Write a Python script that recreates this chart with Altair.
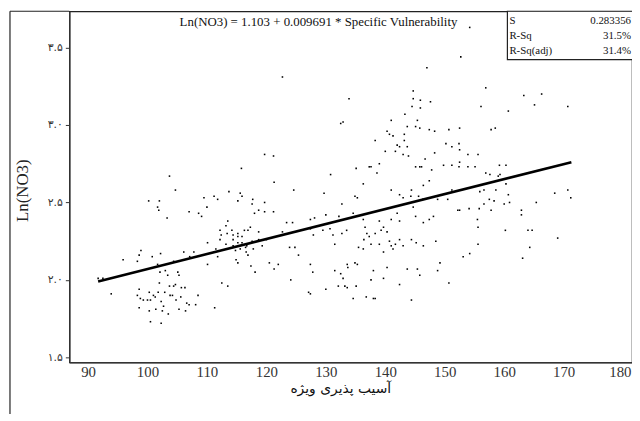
import altair as alt
import pandas as pd

# ---- data ----
sv = [122.7,152.7,147.0,156.9,133.9,144.7,144.7,145.9,147.6,144.5,145.9,163.3,166.3,156.1,160.7,165.1,143.3,132.5,132.9,141.0,
      145.4,145.1,143.7,145.8,140.3,140.7,141.3,143.2,147.4,148.3,150.7,152.5,157.8,158.5,138.3,143.2,142.0,142.4,143.7,140.0,
      141.7,143.0,143.9,150.2,151.2,152.4,152.5,153.9,155.6,148.3,146.7,119.7,121.2,139.0,137.6,138.6,145.8,146.1,145.1,147.8,
      149.8,151.2,152.5,152.4,153.9,155.1,156.9,157.6,159.2,160.3,159.0,130.8,135.1,137.3,121.3,136.3,147.4,103.7,104.7,124.6,
      129.7,141.0,146.4,144.4,151.2,155.9,156.6,158.6,160.7,160.3,134.9,135.3,132.7,142.4,143.0,145.6,146.3,144.3,148.8,148.8,
      100.2,102.0,101.7,101.9,109.5,110.0,111.2,111.8,113.7,115.6,115.9,115.2,117.7,117.6,119.7,121.2,119.7,118.0,118.7,109.1,
      108.6,107.0,103.3,150.5,152.2,152.5,154.1,155.8,156.6,157.5,158.3,157.8,160.0,160.9,162.9,162.9,165.4,144.7,145.1,146.4,
      147.4,148.1,142.0,141.0,142.4,134.6,132.2,130.0,128.1,127.4,124.4,123.4,113.5,113.2,114.2,113.4,114.4,115.2,116.3,115.9,
      112.2,112.4,112.2,114.4,115.2,115.9,115.2,116.7,116.9,117.3,118.7,117.6,116.5,118.7,119.3,120.0,122.7,113.2,114.4,114.8,
      115.6,116.6,117.8,116.9,111.5,110.1,111.2,123.9,124.8,125.4,127.4,127.9,129.5,130.7,131.2,131.5,132.7,133.5,136.3,136.6,
      136.9,136.4,137.6,136.3,135.5,137.3,138.3,139.0,139.3,139.7,140.3,140.7,139.0,141.0,141.3,142.4,141.7,139.7,143.0,144.4,
      145.2,146.4,148.5,155.5,155.6,155.6,160.2,164.0,164.7,163.1,164.3,169.0,154.2,153.1,149.2,148.8,145.4,145.8,143.7,140.3,
      139.7,138.0,137.6,134.9,135.3,133.6,133.7,131.5,132.5,132.9,132.1,133.2,133.6,130.0,127.4,127.8,120.5,121.3,122.0,117.4,
      118.1,114.9,115.2,111.8,110.1,98.9,98.6,100.8,102.2,101.7,102.1,95.9,98.3,106.1,107.8,107.1,104.4,104.1,105.1,105.3,
      103.0,103.4,103.7,102.0,101.8,101.3,98.6,98.3,98.8,99.3,100.0,100.5,100.3,101.0,102.9,103.8,104.2,104.4,104.7,105.7,
      106.3,104.8,105.6,102.3,102.7,98.6,100.3,101.4,102.5,103.5,100.5,102.3,105.3,106.4,106.6,107.0,108.1,108.5,111.3,112.5,
      113.5,93.9,91.7,92.5,124.1,127.1,127.4,136.8,138.0,138.3,134.6,135.1,142.4,144.4,150.7,171.2,168.5,170.7,159.3,170.7,
      154.2,115.8]
ln_no3 = [3.31,3.44,3.37,3.24,3.17,3.22,3.17,3.16,3.15,3.12,3.11,3.19,3.20,3.12,3.09,3.13,3.07,3.01,3.02,3.03,
          3.03,2.99,2.99,2.98,2.96,2.94,2.93,2.94,2.97,2.96,2.97,2.98,2.97,2.98,2.90,2.90,2.87,2.86,2.86,2.83,
          2.83,2.81,2.80,2.88,2.86,2.88,2.84,2.81,2.81,2.82,2.78,2.81,2.80,2.75,2.73,2.69,2.73,2.73,2.73,2.71,
          2.74,2.74,2.76,2.73,2.73,2.73,2.69,2.68,2.74,2.74,2.67,2.68,2.72,2.73,2.63,2.62,2.64,2.67,2.58,2.58,
          2.56,2.58,2.61,2.58,2.58,2.57,2.58,2.58,2.55,2.62,2.54,2.53,2.49,2.55,2.53,2.54,2.52,2.54,2.54,2.52,
          2.51,2.51,2.47,2.45,2.53,2.47,2.54,2.52,2.57,2.56,2.54,2.51,2.52,2.49,2.50,2.44,2.44,2.43,2.45,2.41,
          2.43,2.44,2.40,2.52,2.45,2.45,2.46,2.46,2.49,2.52,2.51,2.45,2.49,2.50,2.45,2.42,2.50,2.47,2.41,2.37,
          2.39,2.41,2.43,2.39,2.38,2.43,2.41,2.42,2.40,2.39,2.37,2.37,2.38,2.35,2.32,2.30,2.29,2.30,2.32,2.28,
          2.32,2.29,2.26,2.26,2.28,2.24,2.24,2.22,2.32,2.34,2.31,2.25,2.21,2.26,2.22,2.26,2.31,2.23,2.22,2.19,
          2.20,2.18,2.20,2.16,2.20,2.24,2.18,2.21,2.21,2.16,2.33,2.29,2.32,2.33,2.29,2.23,2.30,2.32,2.39,2.34,
          2.30,2.26,2.23,2.20,2.21,2.28,2.30,2.38,2.32,2.34,2.31,2.25,2.23,2.22,2.20,2.26,2.23,2.18,2.22,2.26,
          2.24,2.22,2.25,2.39,2.34,2.23,2.32,2.32,2.32,2.14,2.21,2.27,2.17,2.15,2.11,2.06,2.07,2.03,2.07,2.08,
          2.01,2.06,2.00,2.11,2.10,2.10,2.08,2.06,2.04,2.01,1.96,1.96,1.95,1.94,2.10,2.05,2.11,2.07,2.10,2.09,
          2.05,2.13,2.11,2.15,2.10,2.19,2.16,2.15,2.17,2.10,2.05,2.13,2.12,2.18,2.18,2.15,2.12,2.11,2.05,2.03,
          2.06,2.03,1.96,1.98,1.92,1.89,1.94,1.90,1.88,1.87,1.87,1.87,1.92,1.90,1.92,1.90,1.90,1.96,1.97,1.95,
          1.95,1.87,1.89,1.86,1.83,1.82,1.80,1.81,1.80,1.78,1.73,1.72,1.81,1.80,1.85,1.84,1.84,1.90,1.82,1.98,
          1.96,1.91,2.01,2.01,2.00,1.92,1.91,1.89,1.88,1.88,1.88,1.96,1.97,1.87,1.98,2.53,2.56,2.58,2.68,3.12,
          3.63,2.72]

fit_x = [91.7, 171.3]
fit_y = [1.99, 2.76]

x_ticks = [90, 100, 110, 120, 130, 140, 150, 160, 170, 180]
y_ticks = [1.5, 2.0, 2.5, 3.0, 3.5]
y_tick_labels = ["۱.۵", "۲.۰", "۲.۵", "۳.۰", "۳.۵"]

equation = "Ln(NO3) = 1.103 + 0.009691 * Specific Vulnerability"
stat_names = ["S", "R-Sq", "R-Sq(adj)"]
stat_values = ["0.283356", "31.5%", "31.4%"]

x_title = "آسیب پذیری ویژه"
y_title = "Ln(NO3)"

# ---- build chart ----
pts = pd.DataFrame({"sv": sv, "ln": ln_no3})
fit = pd.DataFrame({"sv": fit_x, "ln": fit_y})
one = pd.DataFrame({"k": [0]})

W, H = 569, 355
xscale = alt.Scale(domain=[86.85, 181.5], nice=False, zero=False)
yscale = alt.Scale(domain=[1.468, 3.7345], nice=False, zero=False)

label_expr = " : ".join(
    f"abs(datum.value - {v}) < 0.001 ? '{l}'" for v, l in zip(y_ticks, y_tick_labels)
) + " : ''"

xaxis = alt.Axis(values=x_ticks, title=x_title, grid=False, ticks=False,
                 labelFont="Liberation Sans Narrow", labelFontSize=15, labelColor="#333",
                 labelPadding=2, labelFlush=12, labelFlushOffset=8,
                 domainColor="#333", domainWidth=1.5,
                 titleFont="DejaVu Sans", titleFontSize=14, titleFontWeight="normal",
                 titleColor="#111", titleX=274, titleY=27, titleBaseline="middle")
yaxis = alt.Axis(values=y_ticks, labelExpr=label_expr, title=y_title, grid=False,
                 labelFont="DejaVu Sans", labelFontSize=11, labelColor="#333",
                 tickSize=4, tickColor="#333", labelPadding=3,
                 domainColor="#333", domainWidth=1.5,
                 titleFont="Liberation Serif", titleFontSize=17, titleFontWeight="normal",
                 titleColor="#222", titleX=-38, titleY=181)

scatter = alt.Chart(pts).mark_square(size=2.5, color="black", opacity=1).encode(
    x=alt.X("sv:Q", scale=xscale, axis=xaxis),
    y=alt.Y("ln:Q", scale=yscale, axis=yaxis),
)

line = alt.Chart(fit).mark_line(color="black", strokeWidth=2.6).encode(
    x=alt.X("sv:Q", scale=xscale), y=alt.Y("ln:Q", scale=yscale)
)

eq_text = alt.Chart(one).mark_text(font="Liberation Serif", fontSize=13, color="#111",
                                   align="center", baseline="middle").encode(
    x=alt.value(252), y=alt.value(11), text=alt.value(equation))

box = alt.Chart(one).mark_rect(fill="white", stroke="#222", strokeWidth=1.2).encode(
    x=alt.value(443), x2=alt.value(575), y=alt.value(0), y2=alt.value(49))

layers = [scatter, line, eq_text, box]
for i, (n, v) in enumerate(zip(stat_names, stat_values)):
    yy = 10 + i * 15
    layers.append(alt.Chart(one).mark_text(font="Liberation Serif", fontSize=11, color="#111",
                                           align="left", baseline="middle").encode(
        x=alt.value(445), y=alt.value(yy), text=alt.value(n)))
    layers.append(alt.Chart(one).mark_text(font="Liberation Serif", fontSize=11, color="#111",
                                           align="right", baseline="middle").encode(
        x=alt.value(568), y=alt.value(yy), text=alt.value(v)))

# outer figure frame (left and top edges)
frame_left = alt.Chart(one).mark_rule(color="#222", strokeWidth=1.2).encode(
    x=alt.value(-60), y=alt.value(0), y2=alt.value(420))
frame_top = alt.Chart(one).mark_rule(color="#222", strokeWidth=1.2).encode(
    x=alt.value(-60), x2=alt.value(0), y=alt.value(0))
layers += [frame_left, frame_top]

chart = alt.layer(*layers).properties(
    width=W, height=H,
    autosize=alt.AutoSizeParams(type="none"),
    padding={"left": 62, "top": 1, "right": 0, "bottom": 50},
    background="white",
).configure_view(stroke="#222", strokeWidth=1.2)

chart.save("out.html", embed_options={"renderer": "svg", "actions": False})
